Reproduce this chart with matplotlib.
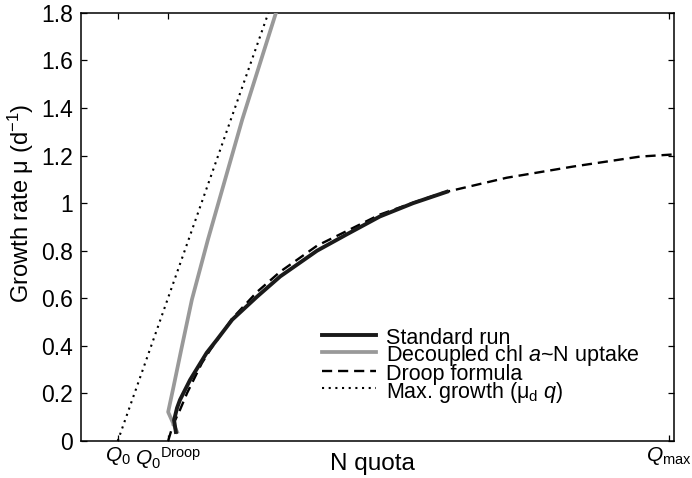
import matplotlib
matplotlib.use("Agg")
import matplotlib.pyplot as plt

plt.rcParams["font.family"] = ["Liberation Sans", "DejaVu Sans"]
plt.rcParams["mathtext.fontset"] = "custom"
plt.rcParams["mathtext.rm"] = "Liberation Sans"
plt.rcParams["mathtext.it"] = "Liberation Sans:italic"
plt.rcParams["mathtext.bf"] = "Liberation Sans:bold"

# N quota (normalised to the axis width) and growth rate (d^-1)
q_ticks = [0.062, 0.147, 0.992]
q_tick_labels = [r"$Q_0$", r"$Q_0{}^{\mathrm{Droop}}$", r"$Q_{\mathrm{max}}$"]
mu_ticks = [0, 0.2, 0.4, 0.6, 0.8, 1.0, 1.2, 1.4, 1.6, 1.8]
mu_tick_labels = ["0", "0.2", "0.4", "0.6", "0.8", "1", "1.2", "1.4", "1.6", "1.8"]

std_q = [0.160, 0.157, 0.162, 0.167, 0.184, 0.212, 0.229, 0.255, 0.297,
         0.336, 0.398, 0.449, 0.504, 0.560, 0.617]
std_mu = [0.038, 0.088, 0.139, 0.173, 0.257, 0.371, 0.425, 0.510, 0.607,
          0.692, 0.800, 0.870, 0.944, 1.000, 1.048]

dec_q = [0.162, 0.147, 0.155, 0.169, 0.187, 0.214, 0.272, 0.329]
dec_mu = [0.038, 0.122, 0.215, 0.383, 0.594, 0.846, 1.352, 1.802]

droop_q = [0.147, 0.155, 0.167, 0.179, 0.204, 0.218, 0.255, 0.297, 0.336,
           0.398, 0.449, 0.504, 0.560, 0.610, 0.718, 0.830, 0.943, 1.0]
droop_mu = [0.0, 0.067, 0.131, 0.202, 0.328, 0.383, 0.515, 0.627, 0.712,
            0.821, 0.884, 0.952, 1.002, 1.044, 1.107, 1.154, 1.196, 1.205]

max_q = [0.062, 0.316]
max_mu = [0.0, 1.8]

fig = plt.figure(figsize=(6.92, 4.78), dpi=100)
ax = fig.add_axes([0.117, 0.0774, 0.857, 0.8956])

ax.plot(max_q, max_mu, color="black", lw=1.5, linestyle=(0, (1, 2.2)),
        label=r"Max. growth (μ$_{\mathrm{d}}$ $q$)", zorder=2)
ax.plot(droop_q, droop_mu, color="black", lw=1.7, linestyle=(0, (4.3, 2.5)),
        label="Droop formula", zorder=3)
ax.plot(dec_q, dec_mu, color="#999999", lw=2.7, label=r"Decoupled chl $a$~N uptake",
        zorder=4)
ax.plot(std_q, std_mu, color="#1a1a1a", lw=2.8, label="Standard run", zorder=5)

ax.set_xlim(0, 1.0)
ax.set_ylim(0, 1.8)
ax.set_xticks(q_ticks)
ax.set_xticklabels(q_tick_labels)
ax.set_yticks(mu_ticks)
ax.set_yticklabels(mu_tick_labels)
ax.tick_params(direction="in", top=True, right=True, length=4, width=0.9,
               labelsize=16.5, pad=5.5)
ax.tick_params(axis="x", pad=3, labelsize=15)
for s in ax.spines.values():
    s.set_linewidth(1.1)

ax.set_xlabel("N quota", fontsize=17.5)
ax.xaxis.set_label_coords(0.492, -0.028)
ax.set_ylabel("Growth rate μ (d$^{\\mathrm{−1}}$)", fontsize=17)
ax.yaxis.set_label_coords(-0.076, 0.556)

handles, labels = ax.get_legend_handles_labels()
order = [3, 2, 1, 0]
ax.legend([handles[i] for i in order], [labels[i] for i in order],
          loc="upper left", bbox_to_anchor=(0.406, 0.27), frameon=False,
          fontsize=15.5, handlelength=2.5, handletextpad=0.5,
          handleheight=1.3, labelspacing=-0.32, borderpad=0, borderaxespad=0)

fig.savefig("out.png", dpi=100)
